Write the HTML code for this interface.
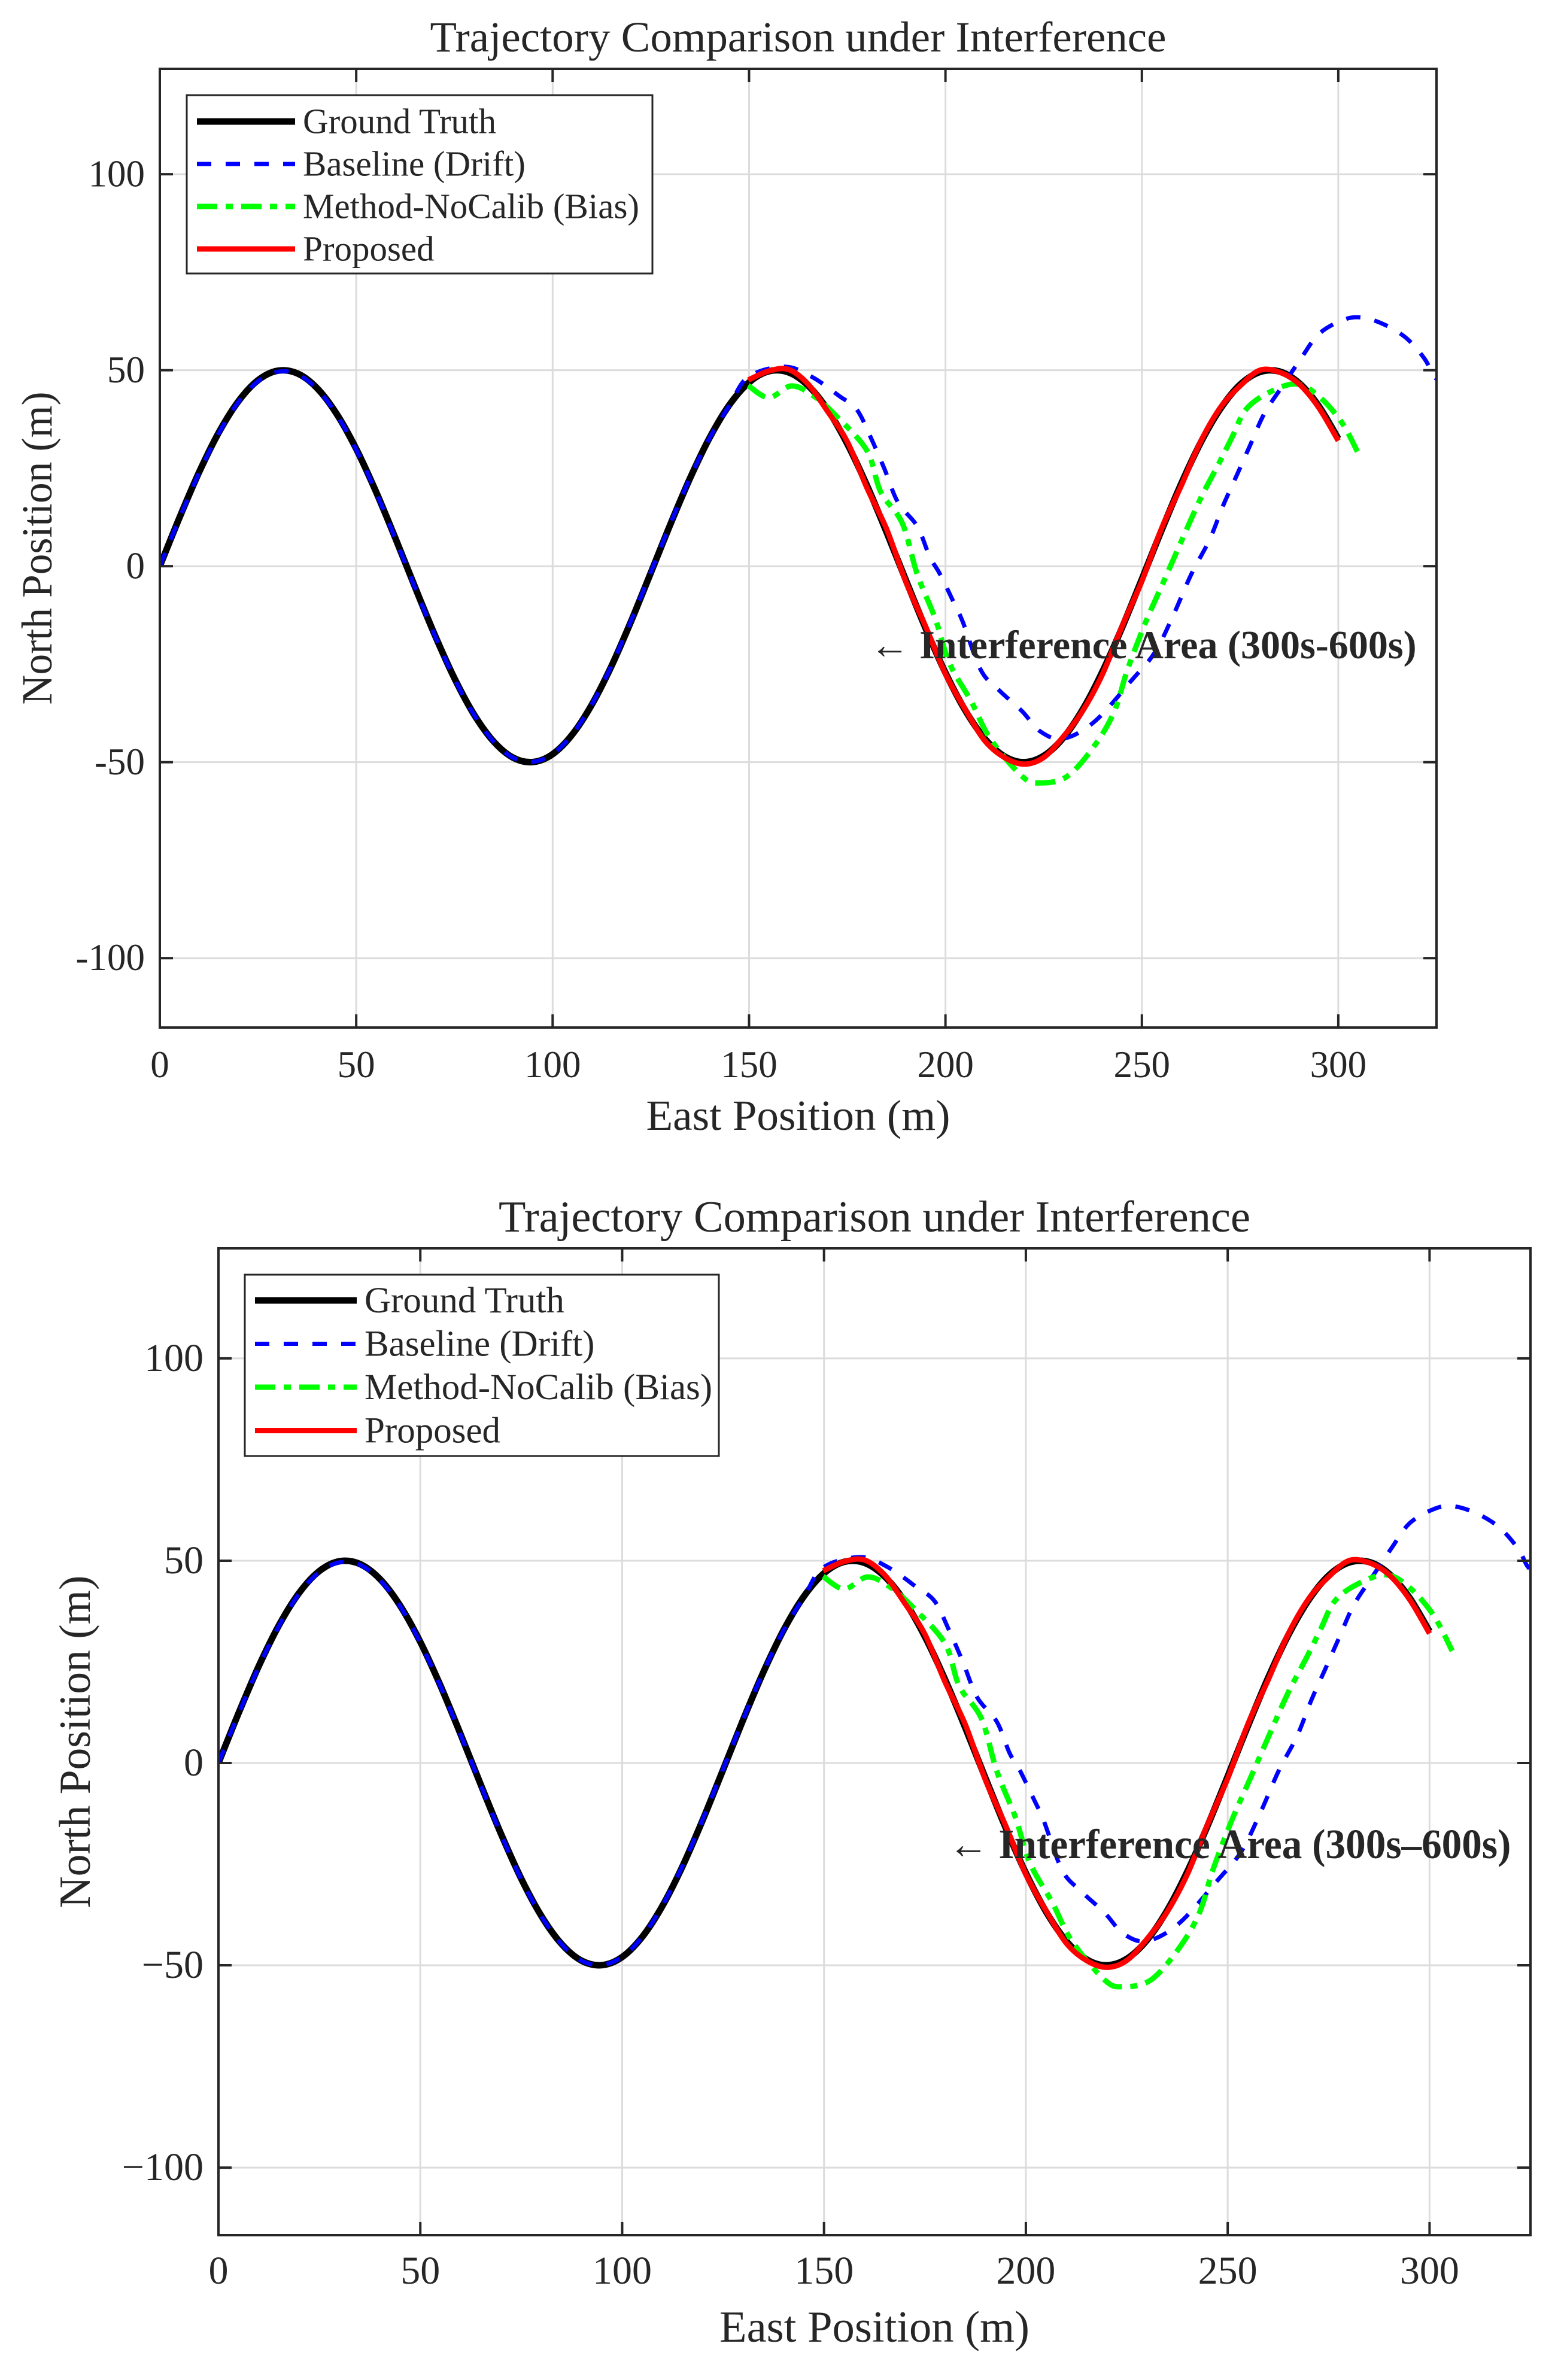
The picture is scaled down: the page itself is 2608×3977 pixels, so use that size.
<!DOCTYPE html>
<html><head><meta charset="utf-8"><style>
html,body{margin:0;padding:0;background:#fff;}
svg{display:block;}
text{font-family:"Liberation Serif",serif;fill:#262626;}
</style></head><body>
<svg id="fig" width="2608" height="3977" viewBox="0 0 2608 3977" xmlns="http://www.w3.org/2000/svg"></svg>
<script>
const xTicks = [0, 50, 100, 150, 200, 250, 300];
const yTicks = [-100, -50, 0, 50, 100];
const gtX = [0,5,10,15,20,25,30,35,40,45,50,55,60,65,70,75,80,85,90,95,100,105,110,115,120,125,130,135,140,145,150,155,160,165,170,175,180,185,190,195,200,205,210,215,220,225,230,235,240,245,250,255,260,265,270,275,280,285,290,295,300];
const gtY = [0,12.37,23.97,34.08,42.07,47.45,49.87,49.2,45.46,38.9,29.92,19.09,7.06,-5.41,-17.54,-28.58,-37.84,-44.75,-48.88,-49.96,-47.95,-42.95,-35.28,-25.42,-13.97,-1.66,10.76,22.5,32.85,41.16,46.9,49.73,49.47,46.12,39.93,31.24,20.61,8.71,-3.76,-15.97,-27.2,-36.72,-43.99,-48.5,-50,-48.4,-43.78,-36.44,-26.83,-15.54,-3.3,9.14,21.01,31.59,40.19,46.32,49.53,49.68,46.75,40.91,32.51];
const blueX = [0,5,10,15,20,25,30,35,40,45,50,55,60,65,70,75,80,85,90,95,100,105,110,115,120,125,130,135,140,145,149.8,159,166,173,177.4,180.9,184.4,187.9,192.8,196,198.6,202,204.4,209,213.7,219.5,224.2,230,238,247.4,253.3,258,262.6,267.2,270.7,274.2,277.7,281.2,285.8,290.5,295,300.9,305.6,311.4,317.2,321.9,324.2,326];
const blueY = [0,12.2,23.8,33.9,41.9,47.2,49.6,49,45.2,38.7,29.7,18.9,6.9,-5.6,-17.7,-28.7,-37.9,-44.8,-48.9,-49.9,-47.9,-42.9,-35.2,-25.3,-13.8,-1.5,10.9,22.6,32.8,41,48.3,50.9,48.3,43.4,40,33,25,16.3,10.2,2.4,-2,-9,-14.2,-26.5,-31.7,-37,-42.2,-44,-39.6,-29.1,-22,-12.5,-2,6.7,15.5,23.3,31.2,39,46,53,59.2,62.7,63.5,61.8,58.3,53,48.7,47];
const greenX = [149.8,155,160.8,166.5,172.3,180,183.5,189,192.8,197.4,201,206.5,211.4,219.5,224,231,238,243,246.3,251,255.6,260.2,264.9,269.5,273,276.5,282.3,289.3,295,301,305.6];
const greenY = [46.1,43,46,43.4,38.2,29.5,19,11,-2,-13.4,-24.7,-34.4,-44,-53.6,-55.3,-53.6,-45.7,-37,-26.5,-14.2,-3.8,6.7,17.2,26,33,40,44.3,46.5,43.4,36.5,27.7];
const redX = [149.8,155,160,165,170,175,180,185,190,195,200,205,210,215,220,225,230,235,240,245,250,255,260,265,270,275,280,285,290,295,300];
const redY = [47.5,49.8,50.2,46.5,39.5,31.8,20,9.5,-4.2,-15.5,-27.5,-36.5,-44.5,-48.8,-50.5,-48.8,-43.5,-36.8,-27.5,-15.2,-3.8,9.6,20.5,31.9,40.5,46,50,49.5,46.5,40.5,32];
const legendLabels = ["Ground Truth", "Baseline (Drift)", "Method-NoCalib (Bias)", "Proposed"];

const NS = "http://www.w3.org/2000/svg";
const svg = document.getElementById("fig");
function mk(tag, parent, attrs) {
  const e = document.createElementNS(NS, tag);
  for (const k in attrs) e.setAttribute(k, attrs[k]);
  parent.appendChild(e);
  return e;
}
function smoothPath(xs, ys, sx, sy) {
  const p = xs.map((x, i) => [sx(x), sy(ys[i])]);
  let d = "M" + p[0][0].toFixed(1) + "," + p[0][1].toFixed(1);
  for (let i = 0; i < p.length - 1; i++) {
    const p0 = p[Math.max(0, i - 1)], p1 = p[i], p2 = p[i + 1], p3 = p[Math.min(p.length - 1, i + 2)];
    const c1 = [p1[0] + (p2[0] - p0[0]) / 6, p1[1] + (p2[1] - p0[1]) / 6];
    const c2 = [p2[0] - (p3[0] - p1[0]) / 6, p2[1] - (p3[1] - p1[1]) / 6];
    d += " C" + c1[0].toFixed(1) + "," + c1[1].toFixed(1) + " " + c2[0].toFixed(1) + "," + c2[1].toFixed(1) + " " + p2[0].toFixed(1) + "," + p2[1].toFixed(1);
  }
  return d;
}

const styles = [
  {color:"#000000", w:11, dash:""},
  {color:"#0000ff", w:7, dash:"24 24"},
  {color:"#00ff00", w:9, dash:"34 14 12 14"},
  {color:"#ff0000", w:9, dash:""}
];

function drawPlot(cfg, idx) {
  const g = mk("g", svg, {});
  
  
  const sx = v => cfg.L + (v - 0) / 325 * (cfg.R - cfg.L);
  const sy = v => cfg.B - (v - cfg.ymin) / (cfg.ymax - cfg.ymin) * (cfg.B - cfg.T);
  const clipId = "clip" + idx;
  const defs = mk("defs", g, {});
  const cp = mk("clipPath", defs, {id: clipId});
  mk("rect", cp, {x: cfg.L, y: cfg.T, width: cfg.R - cfg.L, height: cfg.B - cfg.T});
  xTicks.forEach(t => {
    const l = mk("line", g, {x1: sx(t), x2: sx(t), y1: cfg.T, y2: cfg.B, stroke: "#dcdcdc", "stroke-width": 3});
    
    
  });
  yTicks.forEach(t => {
    const l = mk("line", g, {x1: cfg.L, x2: cfg.R, y1: sy(t), y2: sy(t), stroke: "#dcdcdc", "stroke-width": 3});
    
    
  });
  const series = [[gtX, gtY], [blueX, blueY], [greenX, greenY], [redX, redY]];
  const names = ["ground-truth-line", "baseline-line", "nocalib-line", "proposed-line"];
  [0, 1, 2, 3].forEach(i => {
    const s = styles[i];
    const p = mk("path", g, {d: smoothPath(series[i][0], series[i][1], sx, sy), fill: "none", stroke: s.color, "stroke-width": s.w, "stroke-linejoin": "round", "clip-path": "url(#" + clipId + ")"});
    if (s.dash) p.setAttribute("stroke-dasharray", s.dash);
    
    
  });
  const box = mk("rect", g, {x: cfg.L, y: cfg.T, width: cfg.R - cfg.L, height: cfg.B - cfg.T, fill: "none", stroke: "#262626", "stroke-width": 4});
  
  
  xTicks.forEach(t => {
    mk("line", g, {x1: sx(t), x2: sx(t), y1: cfg.B, y2: cfg.B - 22, stroke: "#262626", "stroke-width": 4});
    mk("line", g, {x1: sx(t), x2: sx(t), y1: cfg.T, y2: cfg.T + 22, stroke: "#262626", "stroke-width": 4});
    const tx = mk("text", g, {x: sx(t), y: cfg.xtickY, "text-anchor": "middle", "font-size": cfg.fs});
    tx.textContent = String(t);
    
    
  });
  yTicks.forEach(t => {
    mk("line", g, {x1: cfg.L, x2: cfg.L + 22, y1: sy(t), y2: sy(t), stroke: "#262626", "stroke-width": 4});
    mk("line", g, {x1: cfg.R, x2: cfg.R - 22, y1: sy(t), y2: sy(t), stroke: "#262626", "stroke-width": 4});
    const tx = mk("text", g, {x: cfg.ytickX, y: sy(t) + cfg.fs * 0.32, "text-anchor": "end", "font-size": cfg.fs});
    tx.textContent = t < 0 ? cfg.minus + String(-t) : String(t);
    
    
  });
  const title = mk("text", g, {x: (cfg.L + cfg.R) / 2, y: cfg.titleY, "text-anchor": "middle", "font-size": cfg.tfs, fill: "#000", textLength: cfg.titleW, lengthAdjust: "spacingAndGlyphs"});
  title.textContent = "Trajectory Comparison under Interference";
  
  
  const xl = mk("text", g, {x: (cfg.L + cfg.R) / 2, y: cfg.xlabelY, "text-anchor": "middle", "font-size": cfg.tfs, textLength: cfg.xlW, lengthAdjust: "spacingAndGlyphs"});
  xl.textContent = "East Position (m)";
  
  
  const yc = (cfg.T + cfg.B) / 2;
  const yl = mk("text", g, {x: cfg.ylabelX, y: yc, "text-anchor": "middle", "font-size": cfg.tfs, textLength: cfg.ylW, lengthAdjust: "spacingAndGlyphs", transform: "rotate(-90 " + cfg.ylabelX + " " + yc + ")"});
  yl.textContent = "North Position (m)";
  
  
  const an = mk("text", g, {x: sx(180.8), y: sy(-23.5), "font-size": cfg.fs + 4, "font-weight": "bold", fill: "#000", textLength: cfg.annW, lengthAdjust: "spacingAndGlyphs"});
  an.textContent = cfg.annText;
  
  
  const lg = mk("g", g, {});
  
  
  mk("rect", lg, {x: cfg.lgX, y: cfg.lgY, width: cfg.lgW, height: cfg.lgH, fill: "#fff", stroke: "#262626", "stroke-width": 3});
  legendLabels.forEach((lab, i) => {
    const e = mk("g", lg, {});
    
    
    const ry = cfg.lgRow0 + i * cfg.lgStep;
    const s = styles[i];
    const ln = mk("line", e, {x1: cfg.lgX + 17, x2: cfg.lgX + 17 + cfg.sampW, y1: ry, y2: ry, stroke: s.color, "stroke-width": s.w});
    if (s.dash) ln.setAttribute("stroke-dasharray", s.dash);
    const t = mk("text", e, {x: cfg.lgX + cfg.sampW + 30, y: ry + cfg.lfs * 0.33, "font-size": cfg.lfs, fill: "#000"});
    t.textContent = lab;
  });
}

drawPlot({L:267, R:2400, T:115, B:1717, ymin:-117.7, ymax:126.9, fs:63, tfs:72, lfs:59, xtickY:1800, xlabelY:1888, ytickX:242, ylabelX:86, titleY:86, minus:"-",
  titleW:1230, xlW:508, ylW:523,
  annText:"\u2190 Interference Area (300s-600s)", annW:913, lgX:312, lgY:159, lgW:778, lgH:298, lgRow0:203, lgStep:71, sampW:164}, 1);
drawPlot({L:365, R:2557, T:2086, B:3735, ymin:-116.7, ymax:127.2, fs:66, tfs:74, lfs:61, xtickY:3816, xlabelY:3913, ytickX:340, ylabelX:150, titleY:2058, minus:"\u2212",
  titleW:1256, xlW:518, ylW:556,
  annText:"\u2190 Interference Area (300s\u2013600s)", annW:940, lgX:409, lgY:2130, lgW:792, lgH:303, lgRow0:2173, lgStep:72.5, sampW:170}, 2);
</script>
</body></html>
